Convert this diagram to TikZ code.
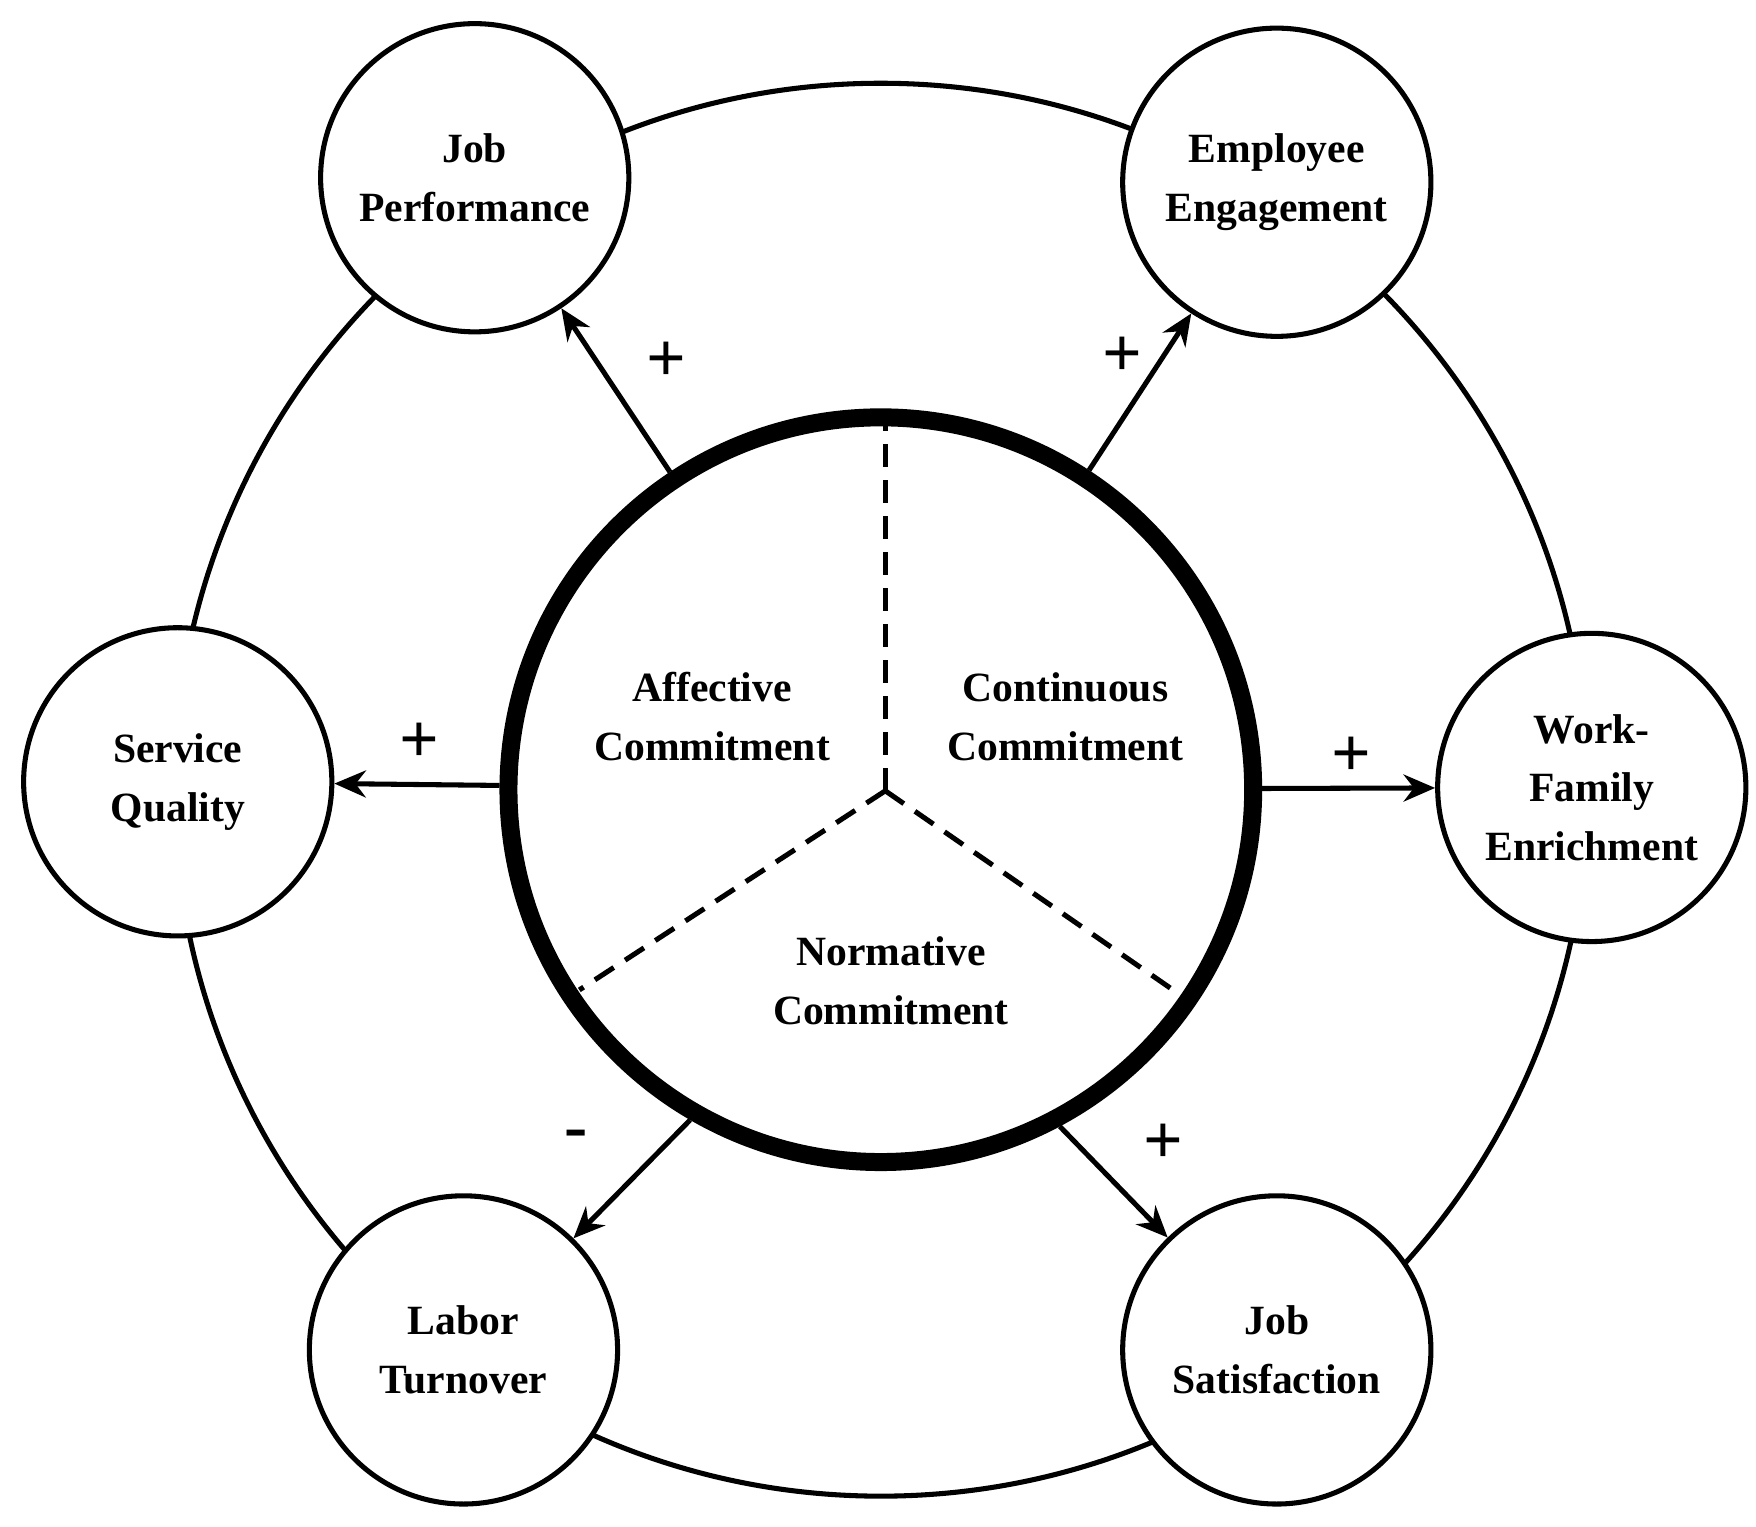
\documentclass[tikz,border=0pt]{standalone}
\usepackage{fontspec}
\setmainfont{Liberation Serif}
\usetikzlibrary{arrows.meta}
\begin{document}
\begin{tikzpicture}[x=1pt,y=-1pt,
  sat/.style={circle,draw,line width=4.5pt,fill=white,minimum size=274pt,inner sep=0pt,align=center,font=\fontsize{37}{52}\selectfont\bfseries},
  lab/.style={font=\fontsize{37}{52}\selectfont\bfseries,align=center},
  sgn/.style={font=\fontsize{62}{62}\selectfont\bfseries},
  arr/.style={line width=4.5pt,-{Stealth[length=28pt,width=24pt]}}]
\useasboundingbox (0,0) rectangle (1561,1357);
\draw[line width=4.5pt] (783,702) circle (628);
\node[sat] (JP) at (422,158) {Job\\Performance};
\node[sat] (EE) at (1135,162) {Employee\\Engagement};
\node[sat] (SQ) at (158,695) {Service\\Quality};
\node[sat] (WF) at (1415,700) {Work-\\Family\\Enrichment};
\node[sat] (LT) at (412,1200) {Labor\\Turnover};
\node[sat] (JS) at (1135,1200) {Job\\Satisfaction};
\node[circle,draw,line width=16pt,fill=white,minimum size=662pt,inner sep=0pt] (C) at (783,702) {};
\coordinate (O) at (787,703);
\draw[line width=4.5pt,dash pattern=on 20pt off 12pt] (O) -- (787,375);
\draw[line width=4.5pt,dash pattern=on 20pt off 12pt] (O) -- (515,880);
\draw[line width=4.5pt,dash pattern=on 20pt off 12pt] (O) -- (1050,885);
\node[lab] (A) at (633,637) {Affective\\Commitment};
\node[lab] (Co) at (947,637) {Continuous\\Commitment};
\node[lab] (N) at (792,872) {Normative\\Commitment};
\draw[arr] (C) -- (JP);
\draw[arr] (C) -- (EE);
\draw[arr] (C) -- (SQ);
\draw[arr] (C) -- (WF);
\draw[arr] (C.-120.7) -- (LT);
\draw[arr] (C.-62.6) -- (JS);
\node[sgn] (p1) at (592,322) {+};
\node[sgn] (p2) at (998,317) {+};
\node[sgn] (p3) at (373,660) {+};
\node[sgn] (p4) at (1201,673) {+};
\node[sgn] (m5) at (512,1013) {-};
\node[sgn] (p6) at (1034,1017) {+};
\end{tikzpicture}
\end{document}
